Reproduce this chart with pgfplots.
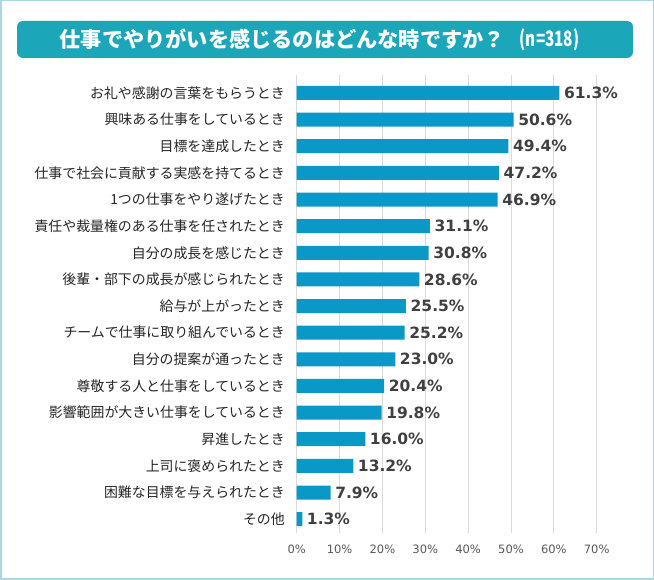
\documentclass[border=0pt]{standalone}
\usepackage{pgfplots}
\pgfplotsset{compat=1.18}
\usepackage{fontspec}
\setmainfont{Noto Sans CJK JP}
\newfontfamily\dejavu{DejaVu Sans}
\definecolor{barc}{HTML}{0A98C6}
\definecolor{titlec}{HTML}{1BA6B9}
\definecolor{framec}{HTML}{A8D9E0}
\definecolor{gridc}{HTML}{DADADA}
\definecolor{labc}{HTML}{262626}
\definecolor{valc}{HTML}{404040}
\definecolor{tickc}{HTML}{595959}
\begin{document}
\begin{tikzpicture}[x=1pt,y=1pt]
\useasboundingbox (0,0) rectangle (654,580);
\draw[framec, line width=1.5pt, fill=white] (0.75,0.75) rectangle (653.25,579.25);
\fill[titlec, rounded corners=6pt] (17,522) rectangle (633,559);
\node[white, font=\bfseries\fontsize{21.2}{24}\selectfont, anchor=west, inner sep=0pt] at (59.5,540.5) {仕事でやりがいを感じるのはどんな時ですか？};
\node[white, font=\bfseries\fontsize{21.2}{24}\selectfont, anchor=east, inner sep=0pt] at (579.5,540.5) {\scalebox{0.72}[1]{(n=318)}};
\begin{axis}[
  at={(296.7pt,47pt)}, anchor=south west, scale only axis,
  width=300pt, height=458pt,
  xbar, bar width=14pt,
  xmin=0, xmax=70, ymin=-0.675, ymax=16.52, y dir=reverse,
  ytick={0,...,16},
  yticklabels={お礼や感謝の言葉をもらうとき,興味ある仕事をしているとき,目標を達成したとき,仕事で社会に貢献する実感を持てるとき,1つの仕事をやり遂げたとき,責任や裁量権のある仕事を任されたとき,自分の成長を感じたとき,後輩・部下の成長が感じられたとき,給与が上がったとき,チームで仕事に取り組んでいるとき,自分の提案が通ったとき,尊敬する人と仕事をしているとき,影響範囲が大きい仕事をしているとき,昇進したとき,上司に褒められたとき,困難な目標を与えられたとき,その他},
  yticklabel style={font=\fontsize{13.9}{16}\selectfont, text=labc, inner sep=0pt, xshift=-11.7pt},
  xtick={0,10,...,70},
  xticklabels={0\%,10\%,20\%,30\%,40\%,50\%,60\%,70\%},
  xticklabel style={font=\dejavu\fontsize{11.5}{14}\selectfont, text=tickc, inner sep=0pt, yshift=-12pt},
  axis line style={draw=none},
  major tick length=0pt,
  xmajorgrids, grid style={gridc, line width=0.8pt},
  /pgf/number format/assume math mode=true,
  clip=false,
]
\addplot[fill=barc, draw=none, point meta=x,
  nodes near coords={\pgfmathprintnumber[fixed,fixed zerofill,precision=1]{\pgfplotspointmeta}\%},
  nodes near coords style={font=\dejavu\bfseries\fontsize{15.5}{18}\selectfont, text=valc, anchor=west, inner sep=0pt, xshift=4.5pt}]
coordinates {
(61.3,0) (50.6,1) (49.4,2) (47.2,3) (46.9,4) (31.1,5) (30.8,6) (28.6,7) (25.5,8) (25.2,9) (23.0,10) (20.4,11) (19.8,12) (16.0,13) (13.2,14) (7.9,15) (1.3,16)
};
\end{axis}
\end{tikzpicture}
\end{document}
